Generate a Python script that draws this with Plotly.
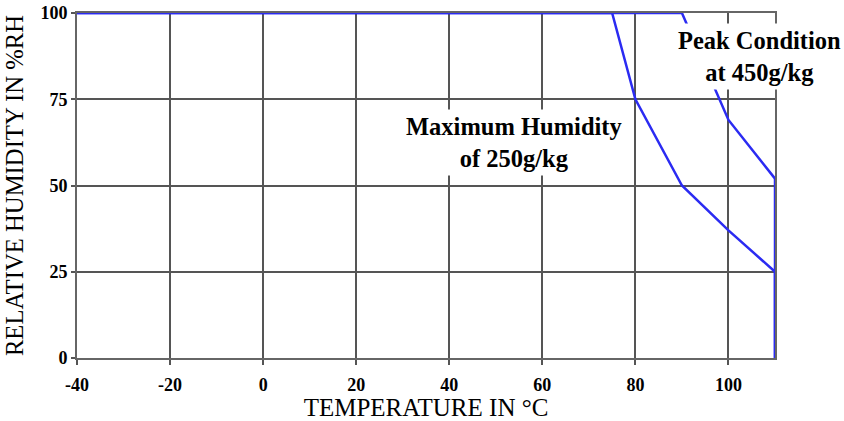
import plotly.graph_objects as go

# Data
temp_250 = [-40, 75, 80, 90, 100, 110, 110]
rh_250 = [100, 100, 75, 50, 37, 25, 0]
temp_450 = [-40, 90, 100, 110, 110]
rh_450 = [100, 100, 69, 52, 0]

x_ticks = [-40, -20, 0, 20, 40, 60, 80, 100]
y_ticks = [0, 25, 50, 75, 100]

label_250 = "Maximum Humidity<br>of 250g/kg"
label_450 = "Peak Condition<br>at 450g/kg"

BLUE = "#2b2bf2"
GRID = "#555555"
SERIF = "Liberation Serif, Times New Roman, serif"

fig = go.Figure()
fig.add_trace(go.Scatter(x=temp_250, y=rh_250, mode="lines",
                         line=dict(color=BLUE, width=2.5), showlegend=False,
                         cliponaxis=False))
fig.add_trace(go.Scatter(x=temp_450, y=rh_450, mode="lines",
                         line=dict(color=BLUE, width=2.5), showlegend=False,
                         cliponaxis=False))

fig.add_annotation(x=54, y=62.5, xref="x", yref="y", text="<b>" + label_250 + "</b>",
                   showarrow=False, bgcolor="white", borderpad=3,
                   font=dict(family=SERIF, size=24.5, color="black"))
fig.add_annotation(x=106.6, y=87.5, xref="x", yref="y", text="<b>" + label_450 + "</b>",
                   showarrow=False, bgcolor="white", borderpad=3,
                   font=dict(family=SERIF, size=24.5, color="black"))

fig.update_layout(
    width=844, height=421,
    margin=dict(l=77, r=69, t=13, b=63),
    paper_bgcolor="white", plot_bgcolor="white",
    font=dict(family=SERIF, color="black"),
    xaxis=dict(range=[-40, 110], tickvals=x_ticks,
               ticktext=["<b>%d</b>" % v for v in x_ticks],
               tickfont=dict(family=SERIF, size=18, color="black"),
               showgrid=True, gridcolor=GRID, gridwidth=2,
               showline=True, linecolor="#666666", linewidth=2, mirror=True,
               ticks="outside", ticklen=5, tickcolor=GRID, tickwidth=2,
               ticklabelstandoff=4, ticklabeloverflow="allow",
               zeroline=False, automargin=False,
               title=dict(text="TEMPERATURE IN °C", standoff=0,
                          font=dict(family=SERIF, size=25, color="black"))),
    yaxis=dict(range=[0, 100], tickvals=y_ticks,
               ticktext=["<b>%d</b>" % v for v in y_ticks],
               tickfont=dict(family=SERIF, size=18, color="black"),
               showgrid=True, gridcolor=GRID, gridwidth=2,
               showline=True, linecolor="#666666", linewidth=2, mirror=True,
               ticks="outside", ticklen=4, tickcolor=GRID, tickwidth=2,
               ticklabeloverflow="allow",
               zeroline=False, automargin=False,
               title=dict(text="RELATIVE HUMIDITY IN %RH", standoff=10,
                          font=dict(family=SERIF, size=24.7, color="black"))),
)

fig.write_html(
    "out.html",
    config={"displayModeBar": False},
    post_script="document.body.style.margin='0';document.body.style.overflow='hidden';",
)
